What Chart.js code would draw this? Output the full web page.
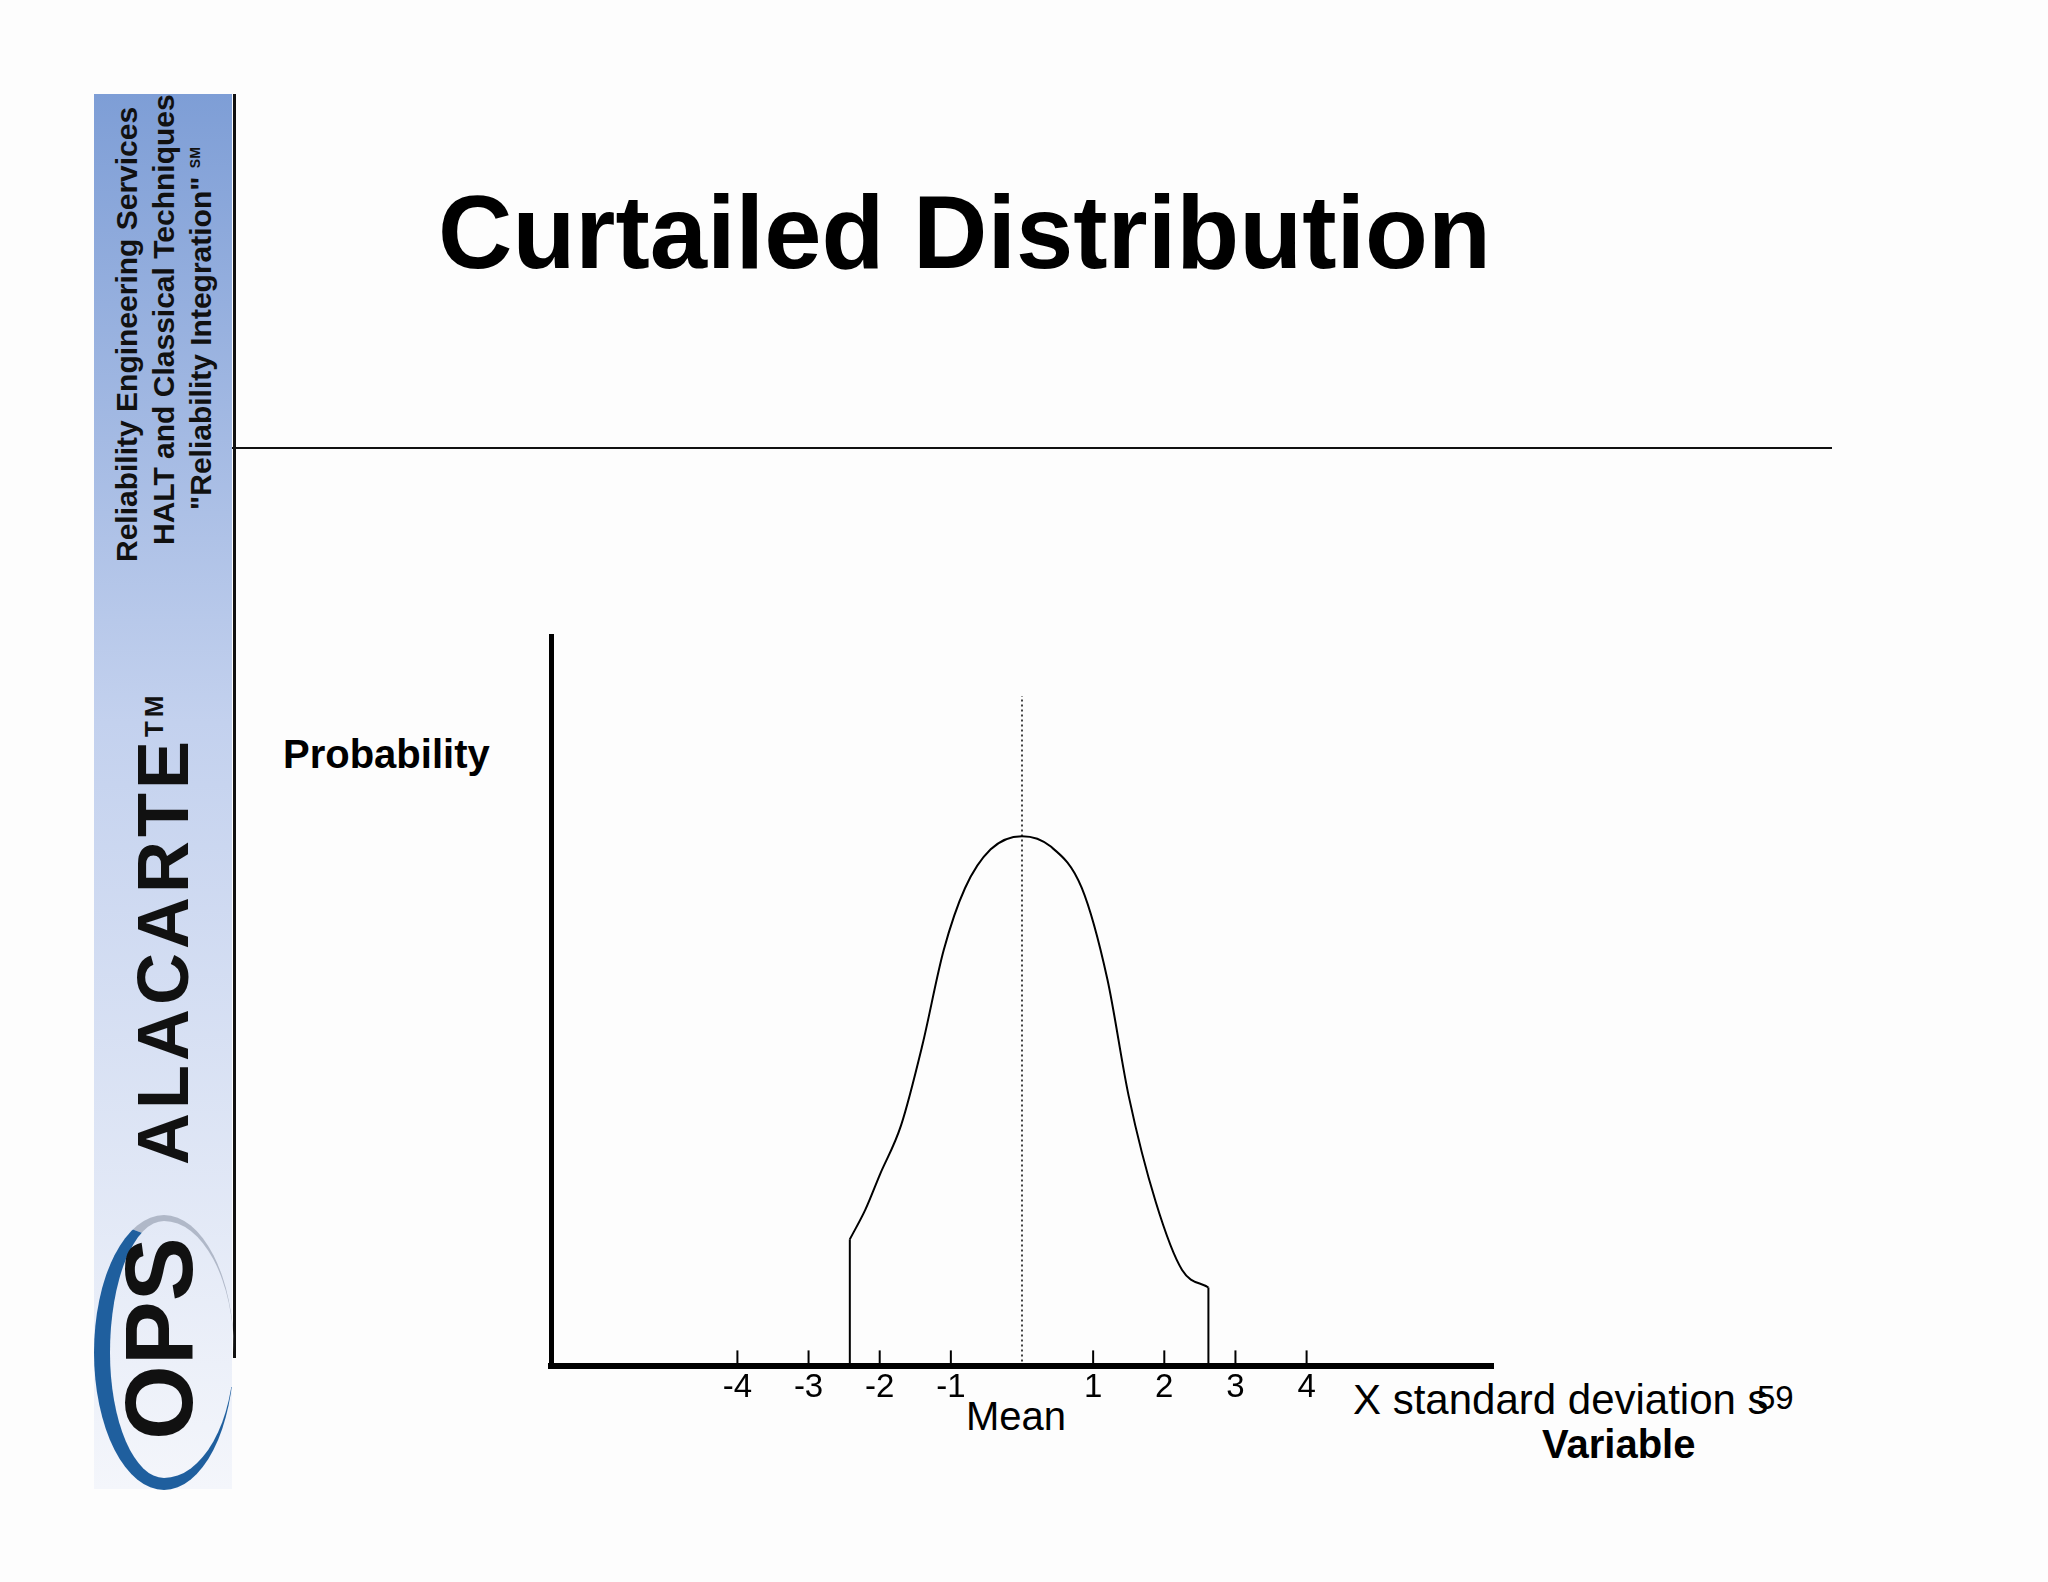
<!DOCTYPE html>
<html>
<head>
<meta charset="utf-8">
<script src="https://cdn.jsdelivr.net/npm/chart.js@4"></script>
<style>
  body { margin: 0; width: 2048px; height: 1582px; background: #fdfdfd; position: relative; overflow: hidden; font-family: "Liberation Sans", Arial, sans-serif; }
  .abs { position: absolute; }
  #side { left: 94px; top: 94px; width: 138px; height: 1395px; background: linear-gradient(#7e9ed6, #c3d1ee 45%, #f4f6fb 100%); }
  .rot { position: absolute; transform-origin: 0 0; transform: rotate(-90deg); white-space: nowrap; font-family: "Liberation Sans Narrow", "Liberation Sans", sans-serif; font-weight: bold; color: #111; }
  #wrap { left: 515px; top: 610px; width: 988px; height: 792px; }
</style>
</head>
<body>
<div id="side" class="abs"></div>
<div class="abs" style="left:233px;top:94px;width:3px;height:1264px;background:#111"></div>
<div class="abs" style="left:232px;top:447px;width:1600px;height:2px;background:#111"></div>
<div class="rot" style="left:110px;top:562px;font-size:30px">Reliability Engineering Services</div>
<div class="rot" style="left:147px;top:545px;font-size:30px">HALT and Classical Techniques</div>
<div class="rot" style="left:184px;top:510px;font-size:30px">"Reliability Integration" <sup style="font-size:14px">SM</sup></div>
<div class="rot" style="left:122px;top:1165px;font-size:72px;letter-spacing:4px">ALACARTE<sup style="font-size:26px">TM</sup></div>
<div class="abs" style="left:94px;top:1215px;width:140px;height:275px;border-radius:50%;border-left:16px solid #1f5f9e;border-bottom:12px solid #1f5f9e;border-top:6px solid #b0b8c8;border-right:0;box-sizing:border-box"></div>
<div class="rot" style="left:104px;top:1440px;font-size:96px;font-family:'Liberation Sans';">OPS</div>

<div class="abs" style="left:438px;top:174px;font-size:103px;font-weight:bold;color:#000">Curtailed Distribution</div>
<div class="abs" style="left:283px;top:732px;font-size:40px;font-weight:bold">Probability</div>
<div class="abs" style="left:966px;top:1394px;font-size:40px">Mean</div>
<div class="abs" style="left:1353px;top:1376px;font-size:42px">X standard deviation s</div>
<div class="abs" style="left:1757px;top:1379px;font-size:33px">59</div>
<div class="abs" style="left:1542px;top:1422px;font-size:40px;font-weight:bold">Variable</div>

<div id="wrap" class="abs"><canvas id="c"></canvas></div>
<script>
const sdTicks = [-4, -3, -2, -1, 1, 2, 3, 4];
const curveX = [-2.42, -2.2, -2.0, -1.7, -1.4, -1.1, -0.8, -0.44, 0, 0.4, 0.84, 1.2, 1.5, 1.88, 2.25, 2.62];
const curveY = [0.174, 0.215, 0.262, 0.33, 0.44, 0.57, 0.655, 0.708, 0.726, 0.712, 0.655, 0.53, 0.37, 0.225, 0.132, 0.108];
const cutLeft = [-2.42, 0.174];
const cutRight = [2.62, 0.108];
const meanLineTop = 0.918;

const pts = curveX.map((x, i) => ({ x: x, y: curveY[i] }));
const line = (data, extra) => Object.assign({ data: data, showLine: true, borderColor: "#000", borderWidth: 2, pointRadius: 0, tension: 0, fill: false }, extra);

// little upward tick marks on the x axis
const tickMarks = {
  id: "tickMarks",
  afterDraw(chart) {
    const ctx = chart.ctx, xs = chart.scales.x, base = chart.chartArea.bottom;
    ctx.save();
    ctx.strokeStyle = "#000";
    ctx.lineWidth = 2;
    sdTicks.forEach(v => {
      const px = xs.getPixelForValue(v);
      ctx.beginPath();
      ctx.moveTo(px, base);
      ctx.lineTo(px, base - 16);
      ctx.stroke();
    });
    ctx.restore();
  }
};

new Chart(document.getElementById("c"), {
  type: "scatter",
  data: {
    datasets: [
      line(pts, { cubicInterpolationMode: "monotone" }),
      line([{ x: cutLeft[0], y: 0 }, { x: cutLeft[0], y: cutLeft[1] }]),
      line([{ x: cutRight[0], y: 0 }, { x: cutRight[0], y: cutRight[1] }]),
      line([{ x: 0, y: 0 }, { x: 0, y: meanLineTop }], { borderWidth: 1.5, borderDash: [2, 3] })
    ]
  },
  plugins: [tickMarks],
  options: {
    responsive: true,
    maintainAspectRatio: false,
    animation: false,
    layout: { padding: { left: 28, right: 10, top: 26, bottom: 0 } },
    plugins: { legend: { display: false }, tooltip: { enabled: false } },
    scales: {
      x: {
        type: "linear", min: -6.62, max: 6.62,
        grid: { display: false },
        border: { color: "#000", width: 6 },
        afterBuildTicks: s => { s.ticks = sdTicks.map(v => ({ value: v })); },
        ticks: { color: "#000", font: { size: 33, family: "Liberation Sans" }, padding: -6, maxRotation: 0, autoSkip: false, callback: v => String(v) }
      },
      y: {
        min: 0, max: 1,
        grid: { display: false },
        border: { color: "#000", width: 5 },
        ticks: { display: false }
      }
    }
  }
});
</script>
</body>
</html>
